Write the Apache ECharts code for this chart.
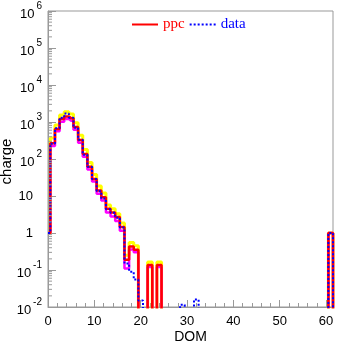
<!DOCTYPE html>
<html><head><meta charset="utf-8">
<script src="https://cdn.jsdelivr.net/npm/echarts@6/dist/echarts.min.js"></script>
<style>html,body{margin:0;padding:0;background:#fff}#c{width:337px;height:344px}</style>
</head><body><div id="c"></div>
<script>
// DOM index of each bin (bins centred on integers, width 1)
const dom = [0,1,2,3,4,5,6,7,8,9,10,11,12,13,14,15,16,17,18,19,20,21,22,23,24,25,26,27,28,29,30,
  31,32,33,34,35,36,37,38,39,40,41,42,43,44,45,46,47,48,49,50,51,52,53,54,55,56,57,58,59,60,61];
// ppc prediction (red)
const ppc = [1,265,650,1200,1400,1270,730,325,137,62,29,14,9.3,4.5,3.6,2.7,1.45,0.19,0.43,0.35,0,0,0.137,0,0.137,
  0,0,0,0,0,0,0,0,0,0,0,0,0,0,0,0,0,0,0,0,0,0,0,0,0,0,0,0,0,0,0,0,0,0,0,0,1];
// ppc upper variation (yellow)
const ppcUp = [1,370,830,1550,1900,1650,950,440,180,80,38,18.5,12,5.7,4.5,3.3,1.86,0.25,0.55,0.45,0,0,0.165,0,0.165,
  0,0,0,0,0,0,0,0,0,0,0,0,0,0,0,0,0,0,0,0,0,0,0,0,0,0,0,0,0,0,0,0,0,0,0,0,1];
// ppc lower variation (magenta)
const ppcLow = [1,225,560,1020,1200,1080,620,275,115,52,24.5,11.5,7.6,3.6,2.8,2.1,1.15,0.11,0.36,0.3,0,0,0.12,0,0.12,
  0,0,0,0,0,0,0,0,0,0,0,0,0,0,0,0,0,0,0,0,0,0,0,0,0,0,0,0,0,0,0,0,0,0,0,0,1];
// data (blue dotted)
const data = [1,260,680,1300,1700,1300,700,330,130,62,29,13.5,8.5,4.4,3.5,2.6,1.4,0.15,0.09,0.055,0.015,0,0,0,0,0,0,0,0,0.0115,0,0,0.016,
  0,0,0,0,0,0,0,0,0,0,0,0,0,0,0,0,0,0,0,0,0,0,0,0,0,0,0,0,1];
const xTicks = [0,10,20,30,40,50,60];
const yDecades = [-2,-1,0,1,2,3,4,5,6];

const FLOOR = 1e-4; // zero bins drawn below the frame
function steps(vals){
  const pts = vals.map((v,i)=>[dom[i], v>0 ? v : FLOOR]);
  pts.push([dom[dom.length-1]+1, FLOOR]);
  return pts;
}
const minorVals = [];
for (let d=-2; d<6; d++) for (let m=2; m<=9; m++) minorVals.push([0, m*Math.pow(10,d)]);

const chart = echarts.init(document.getElementById('c'), null, {renderer:'canvas'});
const gray = '#999999';
function lineSeries(name, vals, color, width, type, z){
  return {name, type:'line', step:'middle', data:steps(vals), symbol:'none', showSymbol:false,
    clip:true, z, animation:false,
    lineStyle:{color, width, type}, itemStyle:{color}};
}
chart.setOption({
  animation:false,
  grid:{left:48, right:4, top:11, bottom:37, show:true, borderColor:gray, borderWidth:1,
    containLabel:false, outerBoundsMode:'none'},
  legend:{
    data:[{name:'ppc', textStyle:{color:'#ff0000'}},{name:'data', textStyle:{color:'#0000ff'}}],
    left:131, top:17, padding:0, itemWidth:26, itemHeight:14, itemGap:4,
    itemStyle:{opacity:0},
    textStyle:{fontFamily:'Liberation Serif', fontSize:15}
  },
  xAxis:{type:'value', min:0, max:61.5, interval:10,
    name:'DOM', nameLocation:'middle', nameGap:23, nameMoveOverlap:false,
    nameTextStyle:{fontFamily:'Liberation Sans', fontSize:14, color:'#000'},
    axisLine:{lineStyle:{color:gray}}, splitLine:{show:false},
    axisTick:{inside:true, length:7, lineStyle:{color:gray}},
    minorTick:{show:true, splitNumber:5, length:4, lineStyle:{color:gray}},
    axisLabel:{margin:8, fontFamily:'Liberation Sans', fontSize:13, color:'#000', showMaxLabel:false,
      formatter:v=> xTicks.indexOf(v)>=0 ? String(v) : ''}
  },
  yAxis:{type:'log', logBase:10, min:0.01, max:1e6, splitNumber:8,
    name:'charge', nameLocation:'middle', nameGap:34, nameMoveOverlap:false,
    nameTextStyle:{fontFamily:'Liberation Sans', fontSize:15, color:'#000', padding:[0,5,0,0]},
    axisLine:{show:true, lineStyle:{color:gray}}, splitLine:{show:false},
    axisTick:{inside:true, length:8, lineStyle:{color:gray}},
    axisLabel:{margin:6, fontFamily:'Liberation Sans', fontSize:13, color:'#000',
      formatter:function(v){
        const e = Math.round(Math.log10(v));
        if (yDecades.indexOf(e) < 0) return '';
        if (e===0) return '{p|1}';
        if (e===1) return '{p|10}';
        return '{b|10}{s|' + e + '}';
      },
      rich:{
        p:{fontFamily:'Liberation Sans', fontSize:13, color:'#000', padding:[0,9,0,0]},
        b:{fontFamily:'Liberation Sans', fontSize:13, color:'#000', lineHeight:20, verticalAlign:'bottom'},
        s:{fontFamily:'Liberation Sans', fontSize:10, color:'#000', lineHeight:20, verticalAlign:'top', padding:[0,0,0,2]}
      }
    }
  },
  series:[
    lineSeries('ppcUp', ppcUp, '#ffff00', 3, 'solid', 1),
    lineSeries('ppcLow', ppcLow, '#ff00ff', 2.5, 'solid', 2),
    lineSeries('ppc', ppc, '#ff0000', 2.5, 'solid', 3),
    lineSeries('data', data, '#0000ff', 2, [2,2], 4),
    {type:'custom', name:'minor', data:minorVals, silent:true, z:5, clip:false,
      renderItem:function(params, api){
        const p = api.coord([api.value(0), api.value(1)]);
        const xl = params.coordSys.x;
        return {type:'line', shape:{x1:xl, y1:p[1], x2:xl+4, y2:p[1]}, style:{stroke:gray, lineWidth:1}};
      }}
  ]
});
</script></body></html>
